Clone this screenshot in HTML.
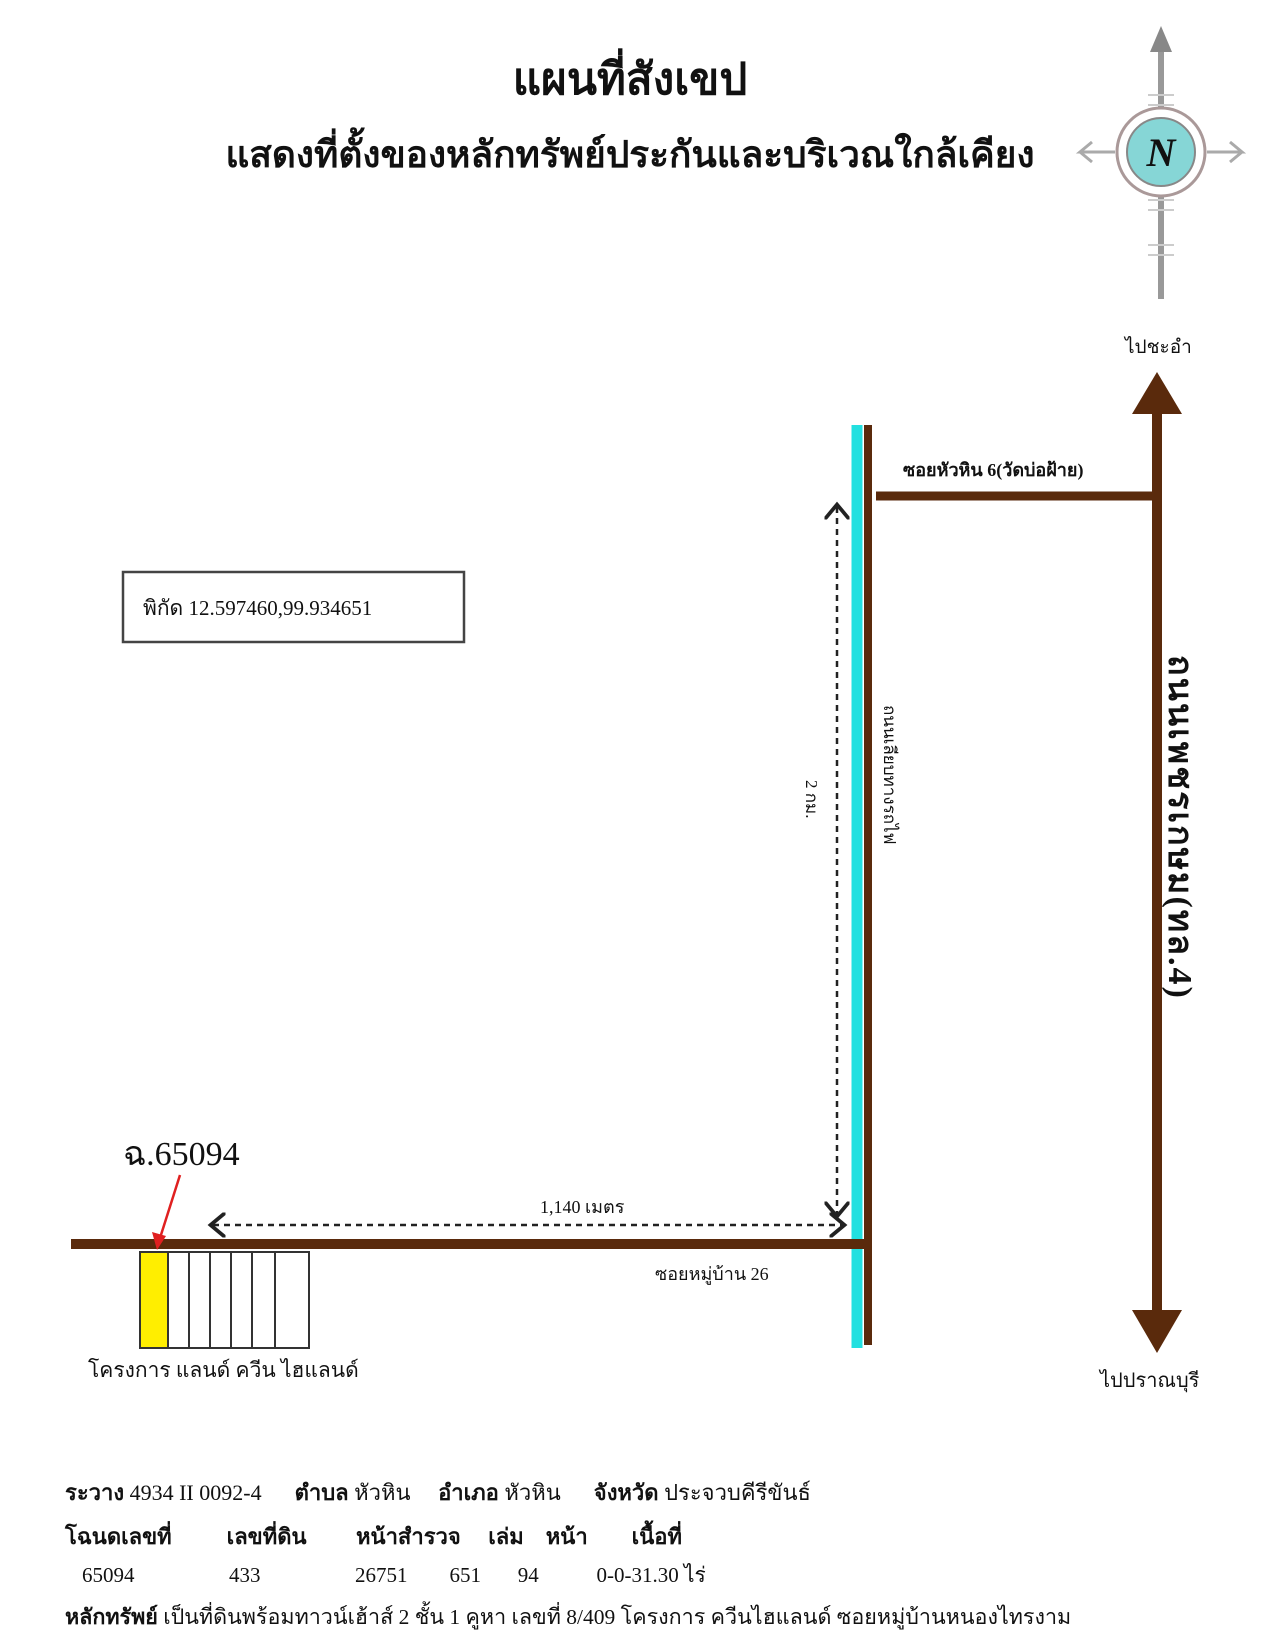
<!DOCTYPE html>
<html><head><meta charset="utf-8">
<style>
body{margin:0;width:1280px;height:1646px;background:#fff;position:relative;overflow:hidden;font-family:"Liberation Serif","Noto Serif CJK SC","Noto Sans CJK SC",serif;color:#111}
.t{position:absolute;white-space:nowrap}
</style></head><body>
<svg width="1280" height="1646" style="position:absolute;left:0;top:0">
<defs>
<marker id="ah" markerWidth="10" markerHeight="10" refX="5" refY="5" orient="auto-start-reverse"><path d="M0,0 L6,5 L0,10" fill="none" stroke="#222" stroke-width="1.5"/></marker>
</defs>
<line x1="1161" y1="40" x2="1161" y2="299" stroke="#999" stroke-width="6"/>
<polygon points="1161,26 1150,52 1172,52" fill="#888"/>
<path d="M1148,95 L1174,95 M1148,105 L1174,105 M1148,200 L1174,200 M1148,210 L1174,210 M1148,245 L1174,245 M1148,255 L1174,255" stroke="#ccc" stroke-width="2"/>
<circle cx="1161" cy="152" r="44" fill="#fff" stroke="#a99" stroke-width="3"/>
<circle cx="1161" cy="152" r="34" fill="#86d6d6" stroke="#888" stroke-width="2"/>
<text x="1161" y="166" font-size="40" font-style="italic" font-weight="bold" text-anchor="middle" font-family="Liberation Serif,serif" fill="#111">N</text>
<path d="M1115,152 L1080,152 L1092,142 M1080,152 L1092,162" stroke="#aaa" stroke-width="3" fill="none"/>
<path d="M1207,152 L1242,152 L1230,142 M1242,152 L1230,162" stroke="#aaa" stroke-width="3" fill="none"/>
<line x1="1157" y1="400" x2="1157" y2="1325" stroke="#5a2a0c" stroke-width="10"/>
<polygon points="1157,372 1132,414 1182,414" fill="#5a2a0c"/>
<polygon points="1157,1353 1132,1310 1182,1310" fill="#5a2a0c"/>
<line x1="876" y1="496" x2="1157" y2="496" stroke="#5a2a0c" stroke-width="9"/>
<line x1="857" y1="425" x2="857" y2="1348" stroke="#22e0e0" stroke-width="11"/>
<line x1="868" y1="425" x2="868" y2="1345" stroke="#5a2a0c" stroke-width="8"/>
<line x1="71" y1="1244" x2="870" y2="1244" stroke="#5a2a0c" stroke-width="10"/>
<line x1="837" y1="507" x2="837" y2="1214" stroke="#222" stroke-width="2.5" stroke-dasharray="6,5" marker-start="url(#ah)" marker-end="url(#ah)"/>
<line x1="213" y1="1225" x2="842" y2="1225" stroke="#222" stroke-width="2.5" stroke-dasharray="6,5" marker-start="url(#ah)" marker-end="url(#ah)"/>
<rect x="123" y="572" width="341" height="70" fill="#fff" stroke="#444" stroke-width="2.5"/>
<rect x="140" y="1252" width="28" height="96" fill="#ffee00" stroke="#333" stroke-width="2"/>
<rect x="168" y="1252" width="21" height="96" fill="#fff" stroke="#333" stroke-width="2"/>
<rect x="189" y="1252" width="21" height="96" fill="#fff" stroke="#333" stroke-width="2"/>
<rect x="210" y="1252" width="21" height="96" fill="#fff" stroke="#333" stroke-width="2"/>
<rect x="231" y="1252" width="21" height="96" fill="#fff" stroke="#333" stroke-width="2"/>
<rect x="252" y="1252" width="23" height="96" fill="#fff" stroke="#333" stroke-width="2"/>
<rect x="275" y="1252" width="34" height="96" fill="#fff" stroke="#333" stroke-width="2"/>
<line x1="180" y1="1175" x2="160" y2="1238" stroke="#e02020" stroke-width="2.5"/>
<polygon points="157,1250 152,1232 166,1236" fill="#e02020"/>
</svg>
<div class="t" style="left:0;width:1260px;text-align:center;top:44px;font-size:44px;font-weight:bold">แผนที่สังเขป</div>
<div class="t" style="left:200px;width:860px;text-align:center;top:125px;font-size:37px;font-weight:bold;letter-spacing:0px">แสดงที่ตั้งของหลักทรัพย์ประกันและบริเวณใกล้เคียง</div>
<div class="t" style="left:1125px;top:332px;font-size:19px">ไปชะอำ</div>
<div class="t" style="left:1100px;top:1364px;font-size:20px">ไปปราณบุรี</div>
<div class="t" style="left:903px;top:455px;font-size:18px;font-weight:bold">ซอยหัวหิน 6(วัดบ่อฝ้าย)</div>
<div class="t" style="left:143px;top:592px;font-size:21px">พิกัด 12.597460,99.934651</div>
<div class="t" style="left:123px;top:1126px;font-size:34px">ฉ.65094</div>
<div class="t" style="left:540px;top:1192px;font-size:18px">1,140 เมตร</div>
<div class="t" style="left:655px;top:1259px;font-size:18px">ซอยหมู่บ้าน 26</div>
<div class="t" style="left:88px;top:1354px;font-size:21px">โครงการ แลนด์ ควีน ไฮแลนด์</div>
<div class="t" style="top:780px;font-size:17px;transform:rotate(90deg);transform-origin:left top;left:825px">2 กม.</div>
<div class="t" style="left:903px;top:705px;font-size:17px;transform:rotate(90deg);transform-origin:left top">ถนนเลียบทางรถไฟ</div>
<div class="t" style="left:1208px;top:655px;font-size:34px;font-weight:bold;letter-spacing:2px;transform:rotate(90deg);transform-origin:left top">ถนนเพชรเกษม(ทล.4)</div>
<div class="t" style="left:65px;top:1475px;font-size:22px"><b>ระวาง</b> 4934 II 0092-4 &nbsp;&nbsp;&nbsp;&nbsp; <b>ตำบล</b> หัวหิน &nbsp;&nbsp;&nbsp; <b>อำเภอ</b> หัวหิน &nbsp;&nbsp;&nbsp;&nbsp; <b>จังหวัด</b> ประจวบคีรีขันธ์</div>
<div class="t" style="left:65px;top:1519px;font-size:22px;font-weight:bold">โฉนดเลขที่ &nbsp;&nbsp;&nbsp;&nbsp;&nbsp;&nbsp;&nbsp;&nbsp; เลขที่ดิน &nbsp;&nbsp;&nbsp;&nbsp;&nbsp;&nbsp;&nbsp; หน้าสำรวจ &nbsp;&nbsp;&nbsp; เล่ม &nbsp;&nbsp; หน้า &nbsp;&nbsp;&nbsp;&nbsp;&nbsp;&nbsp; เนื้อที่</div>
<div class="t" style="left:82px;top:1559px;font-size:21px">65094 &nbsp;&nbsp;&nbsp;&nbsp;&nbsp;&nbsp;&nbsp;&nbsp;&nbsp;&nbsp;&nbsp;&nbsp;&nbsp;&nbsp;&nbsp;&nbsp; 433 &nbsp;&nbsp;&nbsp;&nbsp;&nbsp;&nbsp;&nbsp;&nbsp;&nbsp;&nbsp;&nbsp;&nbsp;&nbsp;&nbsp;&nbsp;&nbsp; 26751 &nbsp;&nbsp;&nbsp;&nbsp;&nbsp;&nbsp; 651 &nbsp;&nbsp;&nbsp;&nbsp;&nbsp; 94 &nbsp;&nbsp;&nbsp;&nbsp;&nbsp;&nbsp;&nbsp;&nbsp;&nbsp; 0-0-31.30 ไร่</div>
<div class="t" style="left:65px;top:1600px;font-size:21.5px"><b>หลักทรัพย์</b> เป็นที่ดินพร้อมทาวน์เฮ้าส์ 2 ชั้น 1 คูหา เลขที่ 8/409 โครงการ ควีนไฮแลนด์ ซอยหมู่บ้านหนองไทรงาม</div>
</body></html>
